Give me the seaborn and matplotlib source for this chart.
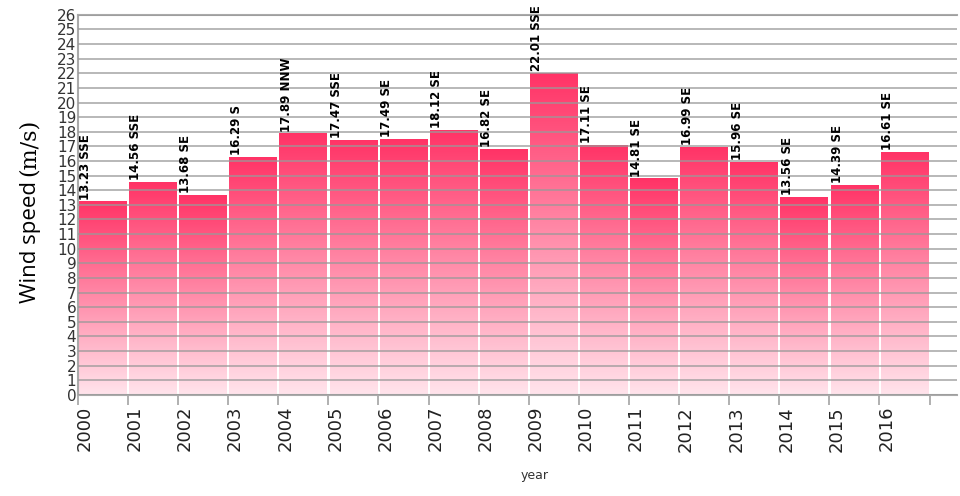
# Annual max wind speed bar chart with gradient bars
import numpy as np
import pandas as pd
import seaborn as sns
import matplotlib.pyplot as plt
from matplotlib.colors import LinearSegmentedColormap

# %%
# data
years = ['2000', '2001', '2002', '2003', '2004', '2005', '2006', '2007', '2008',
         '2009', '2010', '2011', '2012', '2013', '2014', '2015', '2016']
speed = [13.23, 14.56, 13.68, 16.29, 17.89, 17.47, 17.49, 18.12, 16.82,
         22.01, 17.11, 14.81, 16.99, 15.96, 13.56, 14.39, 16.61]
direction = ['SSE', 'SSE', 'SE', 'S', 'NNW', 'SSE', 'SE', 'SE', 'SE',
             'SSE', 'SE', 'SE', 'SE', 'SE', 'SE', 'SE', 'SE']

data = pd.DataFrame({'year': years, 'speed': speed, 'dir': direction})

# %%
sns.set_style('white')
fig = plt.figure(figsize=(9.6, 4.96), dpi=100)
ax = fig.add_axes([0.081, 0.204, 0.916, 0.766])

sns.barplot(data=data, x='year', y='speed', width=0.95, ax=ax,
            color='#ff3366', saturation=1, zorder=1)

# gradient fill for each bar, dark at top and light at bottom
cmap = LinearSegmentedColormap.from_list('pinks', ['#ffe4ec', '#ff3366'])
grad = np.linspace(0, 1, 256).reshape(-1, 1)
for p in ax.patches:
    x0, y0 = p.get_x(), p.get_y()
    w, h = p.get_width(), p.get_height()
    p.set_facecolor('none')
    p.set_edgecolor('none')
    im = ax.imshow(grad, cmap=cmap, origin='lower', aspect='auto',
                   extent=[x0, x0 + w, y0, y0 + h], zorder=1)
    im.set_clip_path(p)

# value labels above the bars
for i, row in data.iterrows():
    ax.text(i - 0.34, row['speed'] + 0.12, f"{row['speed']:.2f} {row['dir']}",
            rotation=90, ha='center', va='bottom', fontsize=8.5,
            fontweight='bold', color='black', zorder=3)

ax.set_xlim(-0.5, 17.05)
ax.set_ylim(0, 26)

# grid drawn over the bars
ax.set_yticks(range(0, 27))
ax.grid(axis='y', color='#999999', lw=1.4, alpha=0.7, zorder=2)
ax.set_axisbelow(False)

# x ticks at bar boundaries, labels sitting to their right
ax.set_xticks(np.arange(-0.5, 17.5, 1.0))
ax.set_xticklabels([])
ax.set_xticks(np.arange(len(years)) - 0.5 + 0.14, minor=True)
ax.set_xticklabels(years, minor=True, rotation=90, fontsize=13, color='#222222')
ax.tick_params(axis='x', which='major', length=7, width=1.3, color='#aaaaaa',
               direction='out', bottom=True)
ax.tick_params(axis='x', which='minor', length=0, pad=8)
ax.tick_params(axis='y', length=0, pad=1, labelsize=11, labelcolor='#333333')

for s in ['left', 'bottom', 'top']:
    ax.spines[s].set_color('#aaaaaa')
    ax.spines[s].set_linewidth(1.5)
ax.spines['right'].set_visible(False)

ax.set_xlabel('')
ax.set_ylabel('')
fig.text(0.5573, 0.028, 'year', ha='center', va='bottom', fontsize=9,
         color='#333333')

# y label: sans part and serif part, second placed right above the first
t1 = fig.text(0.032, (496 - 303) / 496, 'Wind speed', rotation=90, ha='center',
              va='bottom', fontsize=16, family=['Open Sans', 'DejaVu Sans'],
              color='black')
fig.canvas.draw()
bb = t1.get_window_extent()
fig.text(0.030, (bb.y1 + 5) / fig.bbox.height, '(m/s)', rotation=90,
         ha='center', va='bottom', fontsize=16, family='DejaVu Serif',
         color='black')

fig.savefig('out.png', dpi=100)
